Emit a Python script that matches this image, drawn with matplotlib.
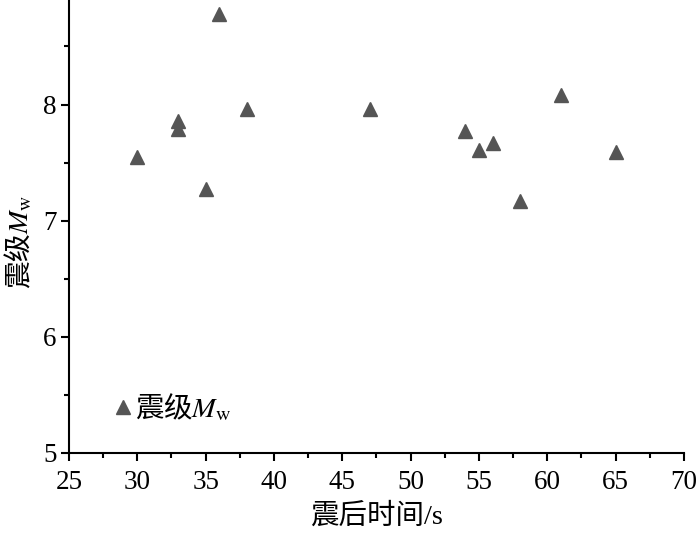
import matplotlib
matplotlib.use("Agg")
import matplotlib.pyplot as plt
import numpy as np

plt.rcParams['font.family'] = ['Liberation Serif', 'Noto Sans CJK SC']
plt.rcParams['mathtext.fontset'] = 'stix'

# data
time_s = [30, 33, 33, 35, 36, 38, 47, 54, 55, 56, 58, 61, 65]
mag_mw = [7.55, 7.86, 7.79, 7.27, 8.78, 7.96, 7.96, 7.77, 7.61, 7.67, 7.17, 8.08, 7.59]
x_ticks = [25, 30, 35, 40, 45, 50, 55, 60, 65, 70]
y_ticks = [5, 6, 7, 8]

fig = plt.figure(figsize=(7, 5.34), dpi=100)
ax = fig.add_axes([0.0986, 0.1517, 0.8784, 0.8483])

ax.plot(time_s, mag_mw, linestyle='none', marker='^', markersize=10,
        color='#555555', label='震级$M_\\mathrm{w}$')

ax.set_xlim(25, 70)
ax.set_ylim(5, 8.9)
ax.set_xticks(x_ticks)
ax.set_yticks(y_ticks)
ax.set_xticks(np.arange(27.5, 70, 5), minor=True)
ax.set_yticks([5.5, 6.5, 7.5, 8.5], minor=True)

for s in ['top', 'right']:
    ax.spines[s].set_visible(False)
for s in ['left', 'bottom']:
    ax.spines[s].set_linewidth(1.5)

ax.tick_params(which='major', direction='out', length=6, width=1.5, labelsize=19.5, pad=3)
ax.tick_params(axis='x', which='major', pad=6)
ax.tick_params(which='minor', direction='out', length=3.5, width=1.5)

ax.set_xlabel('震后时间/s', fontsize=20.5, labelpad=6)
# text with a math part needs a CJK font as its base font
ax.set_ylabel('震级$M_\\mathrm{w}$', fontdict={'family': 'Noto Sans CJK SC', 'size': 20})
ax.yaxis.set_label_coords(-0.055, 0.466)

ax.legend(loc='center left', bbox_to_anchor=(0.012, 0.099), frameon=False,
          prop={'family': 'Noto Sans CJK SC', 'size': 20.5},
          handletextpad=-0.35, handlelength=1.5, numpoints=1)

fig.savefig('out.png', dpi=100)
